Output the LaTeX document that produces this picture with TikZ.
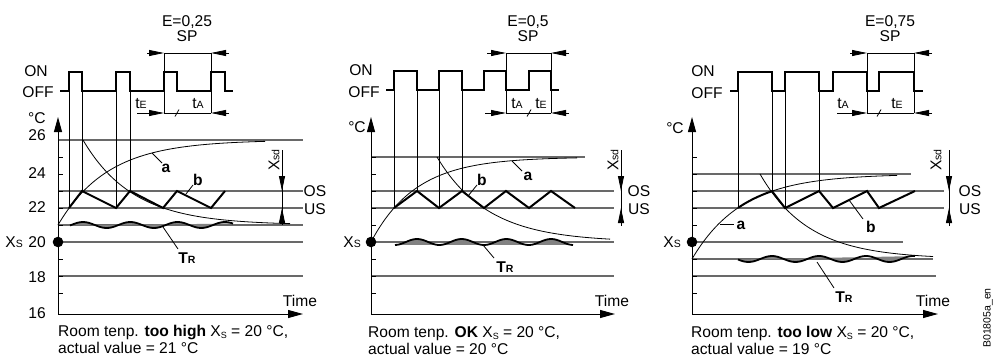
\documentclass[tikz,border=0pt]{standalone}
\usepackage{fontspec}
\setmainfont{Liberation Sans}
\usetikzlibrary{arrows.meta}
\definecolor{gridc}{RGB}{105,105,105}
\definecolor{bandc}{RGB}{130,130,130}
\newcommand\smc[1]{{\fontsize{10.5}{10.5}\selectfont #1}}
\newcommand\subS{\raisebox{-2pt}{{\fontsize{9}{9}\selectfont S}}}
\begin{document}
\begin{tikzpicture}[x=1pt,y=-1pt,
  txt/.style={font=\fontsize{15.6}{18}\selectfont, inner sep=0pt},
  lbl/.style={font=\fontsize{15.6}{18}\selectfont\bfseries, inner sep=0pt},
  gridline/.style={line width=1.2pt, draw=gridc},
  thinline/.style={line width=0.8pt},
  curveline/.style={line width=0.8pt},
  bline/.style={line width=2pt, line join=miter},
  pulse/.style={line width=2pt, line join=miter},
  wave/.style={line width=1.8pt},
  dimarrow/.style={line width=0.8pt, -{Triangle[length=15pt,width=6pt]}},
  xsdarrow/.style={line width=0.8pt, -{Triangle[length=15pt,width=6pt]}},
  axisarrow/.style={line width=1pt, -{Triangle[length=15pt,width=8pt]}},
  tickline/.style={line width=0.8pt}]
\useasboundingbox (0,0) rectangle (993,356);

%================ PANEL 1 =================
\foreach \yy in {140,191,208,225,242,276} \draw[gridline] (58,\yy) -- (303,\yy);
\foreach \yy in {157,174,191,208,225,242,259,276,293} \draw[tickline] (58,\yy) -- (63,\yy);
\coordinate (o1) at (58,314);
\coordinate (y1) at (58,117);
\coordinate (x1) at (303,314);
\draw[axisarrow] (o1) -- (y1);
\draw[axisarrow] (o1) -- (x1);
\draw[pulse] (60,91) -| (69,72) -| (82,91) -| (116,72) -| (130,91) -| (164,72) -| (177,91) -| (211,72) -| (225,91) -- (233,91);
\draw[thinline] (69,91) -- (69,208);
\draw[thinline] (82,91) -- (82,191);
\draw[thinline] (116,91) -- (116,208);
\draw[thinline] (130,91) -- (130,191);
\draw[thinline] (164,53) -- (164,113);
\draw[thinline] (211,53) -- (211,113);
\draw[thinline] (164,53) -- (211,53);
\draw[dimarrow] (147,53) -- (164,53);
\draw[dimarrow] (229,53) -- (211,53);
\draw[thinline] (164,113) -- (211,113);
\draw[dimarrow] (137,113) -- (164,113);
\draw[dimarrow] (229,113) -- (211,113);
\draw[thinline] (175,116.5) -- (179,109.5);
\draw[curveline, domain=58:265, samples=90, variable=\t] plot (\t,{140+85*exp(-(\t-58)/50)});
\draw[curveline, domain=83:290, samples=90, variable=\t] plot (\t,{225-85*exp(-(\t-83)/50)});
\draw[bline] (69,208) -- (82,191) -- (116,208) -- (130,191) -- (163,208) -- (177,191) -- (211,208) -- (225,191);
\fill[bandc, domain=70:233, samples=80, variable=\t] plot (\t,{225-3*cos(7.611*(\t-83))}) -- cycle;
\draw[wave, domain=70:233, samples=80, variable=\t] plot (\t,{225-3*cos(7.611*(\t-83))});
\draw[thinline] (282,150) -- (282,225);
\draw[xsdarrow] (282,176) -- (282,191);
\draw[xsdarrow] (282,224) -- (282,208);
\fill (58,242) circle[radius=5.3pt];
\coordinate (pa1) at (152,153); \coordinate (qa1) at (162,163);
\draw[thinline] (pa1) -- (qa1);
\coordinate (pb1) at (186,194); \coordinate (qb1) at (193,185);
\draw[thinline] (pb1) -- (qb1);
\coordinate (pt1) at (163,227); \coordinate (qt1) at (178,249);
\draw[thinline] (pt1) -- (qt1);
\node[txt, anchor=base] (e1) at (187,26.5) {E=0,25};
\node[txt, anchor=base] (sp1) at (187,41.5) {SP};
\node[txt] (on1) at (36,71) {ON};
\node[txt] (off1) at (38,92.5) {OFF};
\node[txt] (deg1) at (37,118) {°C};
\node[txt, anchor=base] (te1) at (141,108) {t\smc{E}};
\node[txt, anchor=base] (ta1) at (198,108) {t\smc{A}};
\node[txt, anchor=east] (n26) at (46,135) {26};
\node[txt, anchor=east] (n24) at (46,173) {24};
\node[txt, anchor=east] (n22) at (46,207) {22};
\node[txt, anchor=east] (n20) at (46,242) {20};
\node[txt, anchor=east] (n18) at (46,277) {18};
\node[txt, anchor=east] (n16) at (46,313) {16};
\node[txt, anchor=base east] (xs1) at (23,247.5) {X\smc{S}};
\node[lbl] (la1) at (166,168) {a};
\node[lbl] (lb1) at (198,180) {b};
\node[lbl] (lt1) at (187,258) {T\smc{R}};
\node[txt] (os1) at (315,191) {OS};
\node[txt] (us1) at (315,209) {US};
\node[txt, rotate=90] (xsd1) at (274,160) {X\smc{sd}};
\node[txt] (time1) at (300,301) {Time};
\node[txt, anchor=base west] (c1a) at (58,336) {Room tenp. \textbf{too high} X\subS{} = 20 °C,};
\node[txt, anchor=base west] (c1b) at (58,353) {actual value = 21 °C};

%================ PANEL 2 =================
\draw[gridline] (371,157) -- (585,157);
\foreach \yy in {191,208,242,276} \draw[gridline] (371,\yy) -- (614,\yy);
\foreach \yy in {157,174,191,208,225,242,259,276,293} \draw[tickline] (371,\yy) -- (376,\yy);
\coordinate (o2) at (371,314);
\coordinate (y2) at (371,117);
\coordinate (x2) at (615,314);
\draw[axisarrow] (o2) -- (y2);
\draw[axisarrow] (o2) -- (x2);
\draw[pulse] (386,90) -| (394,71) -| (417,90) -| (439,71) -| (462,90) -| (484,71) -| (506,90) -| (529,71) -| (551,90) -- (559,90);
\draw[thinline] (394,90) -- (394,208);
\draw[thinline] (417,90) -- (417,191);
\draw[thinline] (439,90) -- (439,208);
\draw[thinline] (462,90) -- (462,191);
\draw[thinline] (506,53) -- (506,113);
\draw[thinline] (551,53) -- (551,113);
\draw[thinline] (506,53) -- (551,53);
\draw[dimarrow] (487,53) -- (506,53);
\draw[dimarrow] (569,53) -- (551,53);
\draw[thinline] (506,113) -- (551,113);
\draw[dimarrow] (485,113) -- (506,113);
\draw[dimarrow] (569,113) -- (551,113);
\draw[thinline] (527,116.5) -- (531,109.5);
\draw[curveline, domain=371:577, samples=90, variable=\t] plot (\t,{157+85*exp(-(\t-371)/45)});
\draw[curveline, domain=437:610, samples=90, variable=\t] plot (\t,{242-85*exp(-(\t-437)/51)});
\draw[bline] (394,208) -- (417,191) -- (439,208) -- (462,191) -- (484,208) -- (506,191) -- (529,208) -- (551,191) -- (575,208);
\fill[bandc, domain=395:573, samples=80, variable=\t] plot (\t,{242-3*cos(8.054*(\t-417))}) -- cycle;
\draw[wave, domain=395:573, samples=80, variable=\t] plot (\t,{242-3*cos(8.054*(\t-417))});
\draw[thinline] (621,150) -- (621,226);
\draw[xsdarrow] (621,176) -- (621,191);
\draw[xsdarrow] (621,225) -- (621,208);
\fill (371,242) circle[radius=5.3pt];
\coordinate (pa2) at (512,161); \coordinate (qa2) at (522,171);
\draw[thinline] (pa2) -- (qa2);
\coordinate (pb2) at (468,196); \coordinate (qb2) at (477,185);
\draw[thinline] (pb2) -- (qb2);
\coordinate (pt2) at (483,245); \coordinate (qt2) at (494,258);
\draw[thinline] (pt2) -- (qt2);
\node[txt, anchor=base] (e2) at (528,26.5) {E=0,5};
\node[txt, anchor=base] (sp2) at (528,41.5) {SP};
\node[txt] (on2) at (361,70) {ON};
\node[txt] (off2) at (364,92) {OFF};
\node[txt] (deg2) at (357,127) {°C};
\node[txt, anchor=base] (ta2) at (517,108) {t\smc{A}};
\node[txt, anchor=base] (te2) at (541,108) {t\smc{E}};
\node[txt, anchor=base east] (xs2) at (361,247.5) {X\smc{S}};
\node[lbl] (la2) at (528,176) {a};
\node[lbl] (lb2) at (482,180) {b};
\node[lbl] (lt2) at (505,267) {T\smc{R}};
\node[txt] (os2) at (639,191) {OS};
\node[txt] (us2) at (639,209) {US};
\node[txt, rotate=90] (xsd2) at (613,160) {X\smc{sd}};
\node[txt] (time2) at (612,301) {Time};
\node[txt, anchor=base west] (c2a) at (368,337) {Room tenp. \textbf{OK} X\subS{} = 20 °C,};
\node[txt, anchor=base west] (c2b) at (368,354) {actual value = 20 °C};

%================ PANEL 3 =================
\draw[gridline] (692,174) -- (911,174);
\draw[gridline] (692,191) -- (944,191);
\draw[gridline] (692,208) -- (944,208);
\draw[gridline] (692,242) -- (903,242);
\draw[gridline] (692,259) -- (933,259);
\draw[gridline] (692,276) -- (936,276);
\foreach \yy in {157,174,191,208,225,242,259,276,293} \draw[tickline] (692,\yy) -- (697,\yy);
\coordinate (o3) at (692,314);
\coordinate (y3) at (692,117);
\coordinate (x3) at (938,314);
\draw[axisarrow] (o3) -- (y3);
\draw[axisarrow] (o3) -- (x3);
\draw[pulse] (730,91) -| (738,72) -| (772,91) -| (785,72) -| (819,91) -| (833,72) -| (867,91) -| (879,72) -| (914,91) -- (923,91);
\draw[thinline] (738,91) -- (738,208);
\draw[thinline] (772,91) -- (772,191);
\draw[thinline] (785,91) -- (785,208);
\draw[thinline] (819,91) -- (819,191);
\draw[thinline] (867,53) -- (867,113);
\draw[thinline] (914,53) -- (914,113);
\draw[thinline] (867,53) -- (914,53);
\draw[dimarrow] (850,53) -- (867,53);
\draw[dimarrow] (932,53) -- (914,53);
\draw[thinline] (867,113) -- (914,113);
\draw[dimarrow] (837,113) -- (867,113);
\draw[dimarrow] (932,113) -- (914,113);
\draw[thinline] (877,116.5) -- (881,109.5);
\draw[curveline, domain=692:897, samples=90, variable=\t] plot (\t,{174+85*exp(-(\t-692)/50)});
\draw[curveline, domain=760:933, samples=90, variable=\t] plot (\t,{259-85*exp(-(\t-760)/49)});
\draw[bline, domain=738:772, samples=20, variable=\t] plot (\t,{174+85*exp(-(\t-692)/50)}) -- (785,208) -- (819,191) -- (833,208) -- (867,191) -- (879,208) -- (915,191);
\fill[bandc, domain=738:915, samples=80, variable=\t] plot (\t,{259-3*cos(7.660*(\t-772))}) -- cycle;
\draw[wave, domain=738:915, samples=80, variable=\t] plot (\t,{259-3*cos(7.660*(\t-772))});
\draw[thinline] (949,150) -- (949,226);
\draw[xsdarrow] (949,176) -- (949,191);
\draw[xsdarrow] (949,225) -- (949,208);
\fill (692,242) circle[radius=5.3pt];
\coordinate (pa3) at (720,224); \coordinate (qa3) at (734,224);
\draw[thinline] (pa3) -- (qa3);
\coordinate (pb3) at (849,200); \coordinate (qb3) at (863,219);
\draw[thinline] (pb3) -- (qb3);
\coordinate (pt3) at (817,262); \coordinate (qt3) at (834,288);
\draw[thinline] (pt3) -- (qt3);
\node[txt, anchor=base] (e3) at (890,26.5) {E=0,75};
\node[txt, anchor=base] (sp3) at (890,41.5) {SP};
\node[txt] (on3) at (703,71) {ON};
\node[txt] (off3) at (707,93) {OFF};
\node[txt] (deg3) at (675,128) {°C};
\node[txt, anchor=base] (ta3) at (843,108) {t\smc{A}};
\node[txt, anchor=base] (te3) at (897,108) {t\smc{E}};
\node[txt, anchor=base east] (xs3) at (681,247.5) {X\smc{S}};
\node[lbl] (la3) at (741,225) {a};
\node[lbl] (lb3) at (871,227) {b};
\node[lbl] (lt3) at (844,297) {T\smc{R}};
\node[txt] (os3) at (970,191) {OS};
\node[txt] (us3) at (970,209) {US};
\node[txt, rotate=90] (xsd3) at (936,160) {X\smc{sd}};
\node[txt] (time3) at (933,301) {Time};
\node[txt, anchor=base west] (c3a) at (691,337) {Room tenp. \textbf{too low} X\subS{} = 20 °C,};
\node[txt, anchor=base west] (c3b) at (691,354) {actual value = 19 °C};
\node[inner sep=0pt, rotate=90, font=\fontsize{10.5}{12}\selectfont] (code) at (988,318) {B01805a\_en};
\end{tikzpicture}
\end{document}
